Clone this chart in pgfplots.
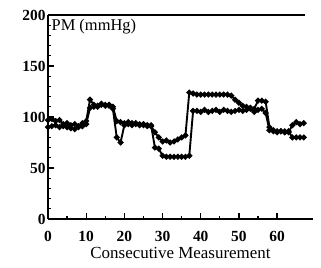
\documentclass[border=0pt]{standalone}
\usepackage{pgfplots}
\pgfplotsset{compat=1.18}
\usepackage{fontspec}
\setmainfont{Liberation Serif}
\begin{document}
\begin{tikzpicture}
\begin{axis}[
  at={(0,0)}, anchor=south west,
  scale only axis, width=265bp, height=204bp,
  xmin=0, xmax=69.4, ymin=0, ymax=200,
  axis lines=left,
  axis line style={line width=1.5pt, -},
  xtick={0,10,...,60}, ytick={0,50,...,200},
  minor x tick num=1, minor y tick num=4,
  tick align=inside,
  major tick length=6bp, minor tick length=3.5bp,
  tick style={line width=1.3pt, black},
  ticklabel style={font=\fontsize{15.5}{17}\selectfont\bfseries},
  /pgf/number format/assume math mode=true,
  xticklabel style={yshift=-9bp},
  yticklabel style={xshift=1bp},
  xlabel={Consecutive Measurement},
  xlabel style={font=\fontsize{17}{19}\selectfont, yshift=1bp},
  clip=false,
]
\draw[line width=1.5pt] (axis cs:0,200) -- (axis cs:67.3,200);
\node[anchor=north west, font=\fontsize{16.5}{18}\selectfont, inner sep=0pt] at (axis cs:0.9,196) {PM (mmHg)};
\addplot[black, line width=1.9pt, mark=*, mark size=1.9pt] coordinates {
(0,97)(1,98)(2,96)(3,97)(4,93)(5,94)(6,92)(7,93)(8,91)(9,94)(10,96)
(11,117)(12,112)(13,111)(14,113)(15,112)(16,112)(17,110)
(18,96)(19,95)(20,94)(21,95)(22,94)(23,94)(24,93)(25,93)(26,92)(27,91)
(28,85)(29,80)(30,76)(31,77)(32,75)(33,76)(34,78)(35,80)(36,82)
(37,124)(38,123)(39,122)(40,122)(41,122)(42,122)(43,122)(44,122)(45,122)(46,122)(47,122)(48,121)
(49,117)(50,114)(51,111)(52,110)(53,109)(54,108)(55,116)(56,116)(57,115)
(58,90)(59,87)(60,86)(61,86)(62,86)(63,85)(64,92)(65,95)(66,93)(67,94)
};
\addplot[black, line width=1.9pt, mark=*, mark size=1.9pt] coordinates {
(0,90)(1,91)(2,92)(3,90)(4,91)(5,90)(6,89)(7,88)(8,90)(9,91)(10,93)
(11,109)(12,110)(13,110)(14,112)(15,111)(16,111)(17,108)
(18,80)(19,75)(20,92)(21,93)(22,92)(23,93)(24,92)(25,92)(26,91)(27,92)
(28,70)(29,69)(30,62)(31,61)(32,61)(33,61)(34,61)(35,61)(36,61)(37,62)
(38,106)(39,106)(40,105)(41,107)(42,105)(43,106)(44,107)(45,105)(46,107)(47,106)(48,105)
(49,106)(50,107)(51,106)(52,107)(53,108)(54,105)(55,107)(56,108)(57,104)
(58,87)(59,86)(60,85)(61,86)(62,85)(63,86)(64,80)(65,80)(66,80)(67,80)
};
\end{axis}
\pgfresetboundingbox
\path (-48bp,-49bp) rectangle (273bp,219bp);
\end{tikzpicture}
\end{document}
